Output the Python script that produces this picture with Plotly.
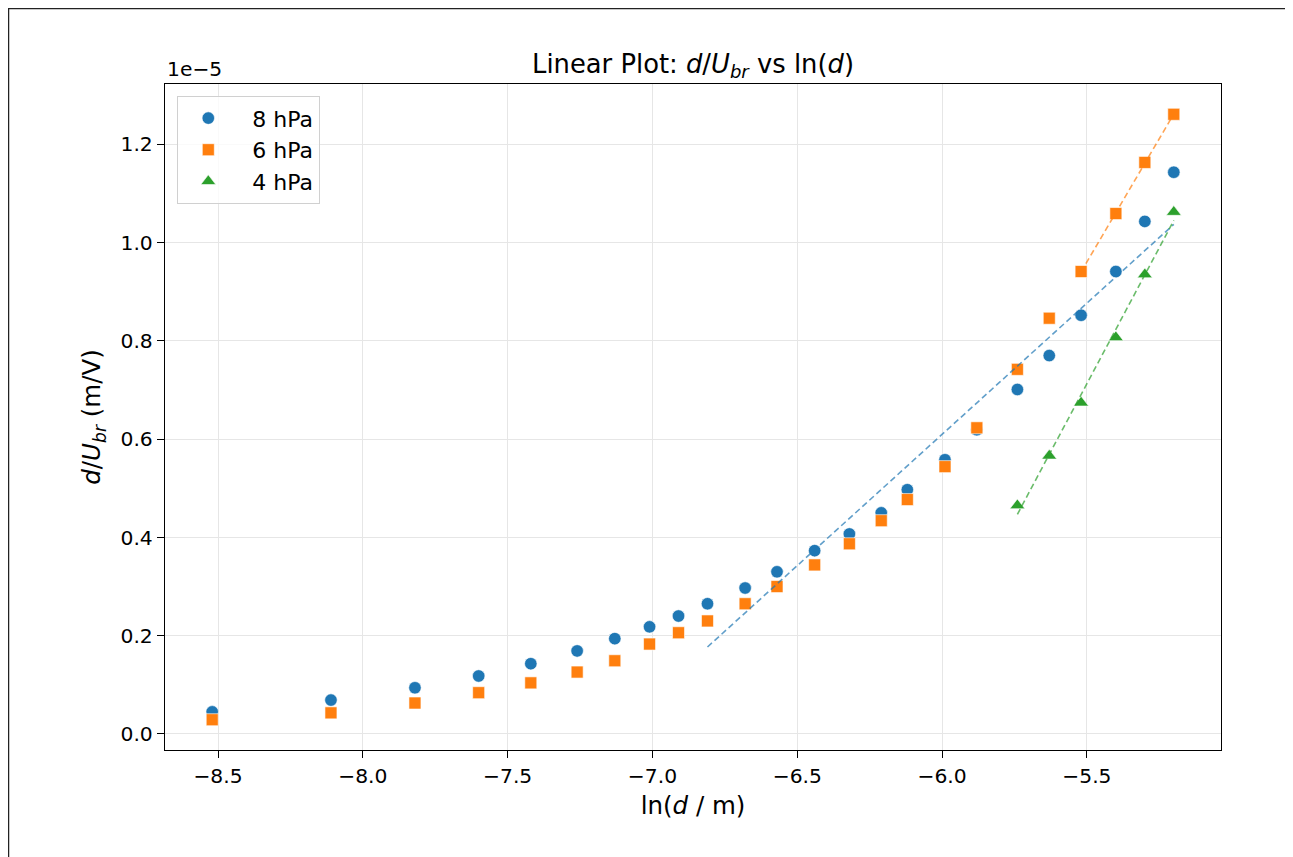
import numpy as np
import plotly.graph_objects as go

# ln(d / m) positions
ln_d = [-8.52, -8.11, -7.82, -7.60, -7.42, -7.26, -7.13, -7.01, -6.91, -6.81,
        -6.68, -6.57, -6.44, -6.32, -6.21, -6.12, -5.99, -5.88, -5.74, -5.63,
        -5.52, -5.40, -5.30, -5.20]

# d/U_br in units of 1e-5 m/V
y_8hPa = [0.045, 0.069, 0.094, 0.118, 0.143, 0.169, 0.194, 0.218, 0.240, 0.265,
          0.297, 0.330, 0.373, 0.407, 0.450, 0.497, 0.558, 0.619, 0.701, 0.770,
          0.852, 0.941, 1.043, 1.143]
y_6hPa = [0.029, 0.043, 0.063, 0.084, 0.104, 0.126, 0.149, 0.183, 0.206, 0.230,
          0.265, 0.300, 0.344, 0.387, 0.434, 0.477, 0.544, 0.623, 0.742, 0.846,
          0.941, 1.059, 1.163, 1.261]
ln_d_4hPa = [-5.74, -5.63, -5.52, -5.40, -5.30, -5.20]
y_4hPa = [0.465, 0.566, 0.674, 0.807, 0.935, 1.062]

# start of linear-fit region for each series
fit_start_8 = -6.81
fit_start_6 = -5.52
fit_start_4 = -5.74

blue, orange, green = "#1f77b4", "#ff7f0e", "#2ca02c"
FONT = "DejaVu Sans"

W, H = 1285, 849
L, R, T, B = 157, 72, 76, 107
PW, PH = W - L - R, H - T - B


def fit_line(xs, ys, x0):
    xs = np.array(xs)
    ys = np.array(ys)
    m = xs >= x0 - 1e-9
    k, b = np.polyfit(xs[m], ys[m], 1)
    xx = np.array([xs[m].min(), xs[m].max()])
    return xx, k * xx + b


fig = go.Figure()
nb = "\u00a0" * 2
fig.add_trace(go.Scatter(x=ln_d, y=y_8hPa, mode="markers", name=nb + "8 hPa",
                         marker=dict(symbol="circle", size=12.5, color=blue,
                                     line=dict(width=0.6, color="white"))))
fig.add_trace(go.Scatter(x=ln_d, y=y_6hPa, mode="markers", name=nb + "6 hPa",
                         marker=dict(symbol="square", size=12, color=orange,
                                     line=dict(width=0.6, color="white"))))
fig.add_trace(go.Scatter(x=ln_d_4hPa, y=y_4hPa, mode="markers", name=nb + "4 hPa",
                         marker=dict(symbol="triangle-up", size=13, color=green,
                                     line=dict(width=0.6, color="white"))))

for xs, ys, x0, c in [(ln_d, y_8hPa, fit_start_8, blue),
                      (ln_d, y_6hPa, fit_start_6, orange),
                      (ln_d_4hPa, y_4hPa, fit_start_4, green)]:
    fx, fy = fit_line(xs, ys, x0)
    fig.add_trace(go.Scatter(x=fx, y=fy, mode="lines", showlegend=False,
                             opacity=0.7, hoverinfo="skip",
                             line=dict(color=c, width=1.6, dash="6px,3.5px")))

axis_common = dict(showline=True, linecolor="black", linewidth=1.3, mirror=True,
                   ticks="outside", ticklen=7, tickwidth=1.3, tickcolor="black",
                   showgrid=True, gridcolor="#e6e6e6", gridwidth=1.3,
                   zeroline=False, tickfont=dict(family=FONT, size=20.3, color="black"))

fig.update_layout(
    width=W, height=H,
    margin=dict(l=L, r=R, t=T, b=B),
    paper_bgcolor="white", plot_bgcolor="white",
    font=dict(family=FONT, color="black"),
    title=dict(text="Linear Plot: <i>d</i>/<i>U</i><sub><i>br</i></sub> vs ln(<i>d</i>)",
               x=(L + PW / 2) / W, xanchor="center",
               y=1 - 56 / H, yanchor="middle",
               font=dict(family=FONT, size=25.8, color="black")),
    xaxis=dict(range=[-8.683, -5.037], tickvals=[-8.5, -8.0, -7.5, -7.0, -6.5, -6.0, -5.5],
               tickformat=".1f",
               title=dict(text="ln(<i>d</i> / m)", font=dict(family=FONT, size=24.5), standoff=10),
               **axis_common),
    yaxis=dict(range=[-0.0326, 1.3226], tickvals=[0.0, 0.2, 0.4, 0.6, 0.8, 1.0, 1.2],
               tickformat=".1f",
               title=dict(text="<i>d</i>/<i>U</i><sub><i>br</i></sub> (m/V)",
                          font=dict(family=FONT, size=24.5), standoff=12),
               **axis_common),
    legend=dict(x=12 / PW, y=1 - 12 / PH, xanchor="left", yanchor="top",
                bgcolor="rgba(255,255,255,0.8)", bordercolor="#d0d0d0", borderwidth=1.3,
                font=dict(family=FONT, size=22, color="black"),
                tracegroupgap=0, itemwidth=50),
    showlegend=True,
)

fig.add_annotation(text="1e\u22125", xref="paper", yref="paper", x=0, y=1,
                   xanchor="left", yanchor="bottom", showarrow=False, yshift=1,
                   font=dict(family=FONT, size=20.3, color="black"))

# figure frame
fig.add_shape(type="rect", xref="paper", yref="paper",
              x0=(0.5 - L) / PW, x1=1.3, y0=-0.4, y1=1 + (T - 0.5) / PH,
              line=dict(color="#222222", width=1.5), layer="above")

fig.write_html("out.html")
